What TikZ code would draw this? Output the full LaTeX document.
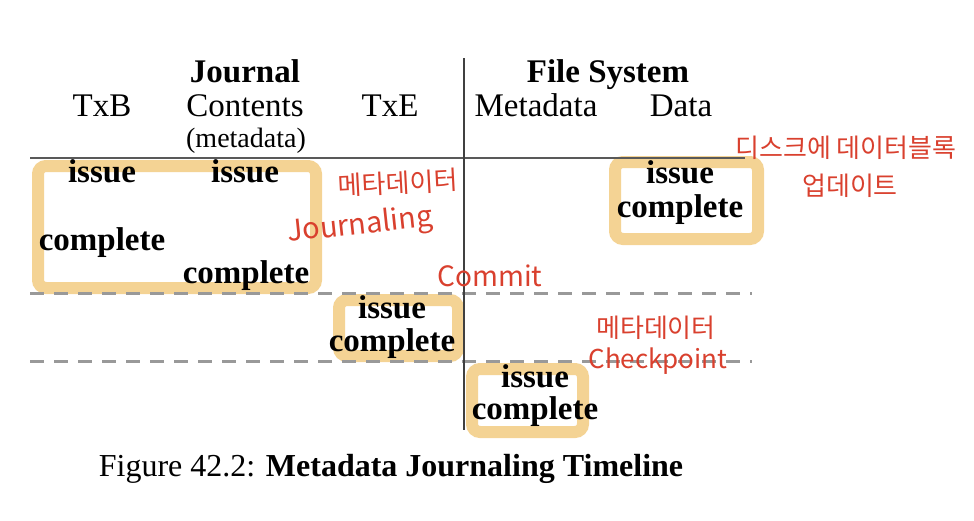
\documentclass[tikz,border=0pt]{standalone}
\usepackage{fontspec}
\setmainfont{Liberation Serif}
\newfontfamily\kor{Noto Sans CJK KR}
\definecolor{boxorange}{HTML}{F4D394}
\definecolor{penred}{HTML}{D9402E}
\begin{document}
\begin{tikzpicture}[x=0.5pt,y=-0.5pt,
        every node/.style={font=\fontsize{16.5}{19}\selectfont,inner sep=0pt},
        head/.style={anchor=base},
        ev/.style={anchor=base,font=\fontsize{16.5}{19}\selectfont\bfseries},
        hilite/.style={draw=boxorange,line width=6pt,rounded corners=4pt,fill=white},
        note/.style={text=penred,font=\kor\fontsize{13}{16}\selectfont}]
        \useasboundingbox (0,0) rectangle (974,520);
        \draw [hilite] (38,166) rectangle (316,288);
        \draw [hilite] (339,300) rectangle (458,356);
        \draw [hilite] (472,369) rectangle (583,432);
        \draw [hilite] (615,162) rectangle (758,239);
        \draw [black!65,line width=1pt] (30,158) -- (745,158);
        \draw [black!40,line width=1.5pt,dash pattern=on 7pt off 5pt] (30,293) -- (752,293);
        \draw [black!40,line width=1.5pt,dash pattern=on 7pt off 5pt] (30,361) -- (752,361);
        \draw [black!75,line width=1pt] (464,58) -- (464,430);
        \node [head,font=\fontsize{16.5}{19}\selectfont\bfseries] (journal) at (245,82) {Journal};
        \node [head,font=\fontsize{16.5}{19}\selectfont\bfseries] (fs) at (608,82) {File System};
        \node [head] (txb) at (102,116) {TxB};
        \node [head] (contents) at (245,116) {Contents};
        \node [head,font=\fontsize{14}{17}\selectfont] (metadata) at (246,147) {(metadata)};
        \node [head] (txe) at (390,116) {TxE};
        \node [head] (fsmeta) at (536,116) {Metadata};
        \node [head] (fsdata) at (681,116) {Data};
        \node [ev] (txbissue) at (102,182) {issue};
        \node [ev] (txbdone) at (102,250) {complete};
        \node [ev] (jcissue) at (245,182) {issue};
        \node [ev] (jcdone) at (246,283) {complete};
        \node [ev] (txeissue) at (392,318) {issue};
        \node [ev] (txedone) at (392,351) {complete};
        \node [ev] (cpissue) at (535,387) {issue};
        \node [ev] (cpdone) at (535,419) {complete};
        \node [ev] (dissue) at (680,183) {issue};
        \node [ev] (ddone) at (680,217) {complete};
        \node [head,font=\fontsize{16}{19}\selectfont] (caption) at (391,476) {Figure 42.2: \textbf{Metadata Journaling Timeline}};
        \node [note] (diskA) at (846,148) {디스크에 데이터블록};
        \node [note] (diskB) at (850,186) {업데이트};
        \node [note,rotate=3] (jmeta) at (398,183) {메타데이터};
        \node [note,rotate=6,font=\kor\fontsize{14.5}{17}\selectfont] (jword) at (360,226) {Journaling};
        \node [note,font=\kor\fontsize{14}{17}\selectfont] (commit) at (490,276) {Commit};
        \node [note] (cmeta) at (656,328) {메타데이터};
        \node [note,font=\kor\fontsize{13}{16}\selectfont] (cword) at (658,361) {Checkpoint};
    \end{tikzpicture}
\end{document}
